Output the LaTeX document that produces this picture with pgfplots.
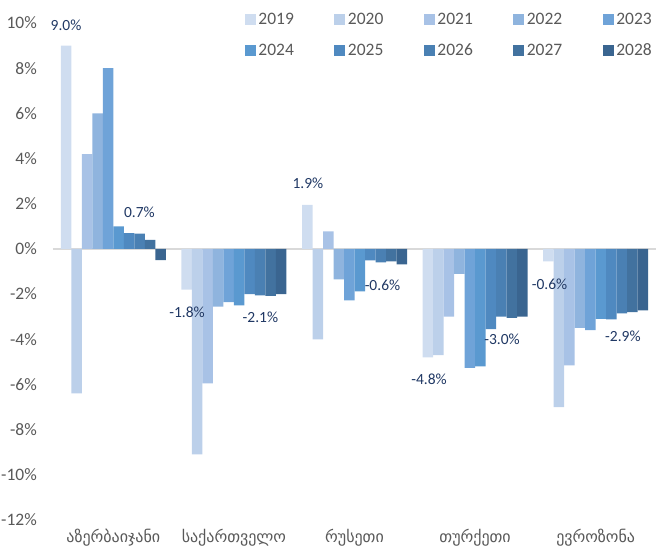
\documentclass[border=0pt]{standalone}
\usepackage{pgfplots}
\pgfplotsset{compat=1.18}
\usepackage{fontspec}
\setmainfont{Carlito}
\newfontfamily\geofont{DejaVu Sans}
\definecolor{cA}{HTML}{CFDDF0}
\definecolor{cB}{HTML}{BCD0EA}
\definecolor{cC}{HTML}{A8C2E6}
\definecolor{cD}{HTML}{8FB4DE}
\definecolor{cE}{HTML}{6FA3D8}
\definecolor{cF}{HTML}{5A99D0}
\definecolor{cG}{HTML}{4F89C0}
\definecolor{cH}{HTML}{4A80B3}
\definecolor{cI}{HTML}{42729F}
\definecolor{cJ}{HTML}{3A6590}
\definecolor{tickgray}{HTML}{595959}
\definecolor{zerogray}{HTML}{D9D9D9}
\definecolor{labelblue}{HTML}{203864}
\begin{document}
\begin{tikzpicture}
\useasboundingbox (-53pt,-30pt) rectangle (603pt,520pt);
\begin{axis}[
  scale only axis, width=603pt, height=497pt,
  at={(0pt,0pt)}, anchor=south west,
  clip=false,
  ybar=0pt, bar width=10.5pt,
  xmin=-0.5, xmax=4.5, ymin=-12, ymax=10,
  xtick={0,1,2,3,4},
  xticklabels={აზერბაიჯანი,საქართველო,რუსეთი,თურქეთი,ევროზონა},
  ytick={-12,-10,...,10},
  yticklabel={\pgfmathprintnumber{\tick}\%},
  /pgf/number format/assume math mode=true,
  axis line style={draw=none},
  major tick length=0pt,
  tick label style={color=tickgray, inner sep=0pt},
  yticklabel style={font=\fontsize{17.5}{20}\selectfont, anchor=east, xshift=-16pt},
  xticklabel style={font=\geofont\fontsize{16}{18}\selectfont, anchor=center, yshift=-18pt},
  extra y ticks={0}, extra y tick labels={},
  extra y tick style={grid=major, major grid style={draw=zerogray, line width=1.5pt}},
  legend columns=5,
  legend style={draw=none, fill=none, at={(0.313,1.03)}, anchor=north west,
    font=\fontsize{17.5}{20}\selectfont, text=tickgray, row sep=13pt,
    /tikz/every even column/.append style={column sep=38pt},
    nodes={inner sep=2.5pt}},
  legend image code/.code={\path[#1,draw=none] (0pt,-5.5pt) rectangle (11pt,5.5pt);},
]
\addplot[fill=cA, draw=none] coordinates {(0,9.0) (1,-1.8) (2,1.95) (3,-4.8) (4,-0.55)};
\addplot[fill=cB, draw=none] coordinates {(0,-6.4) (1,-9.1) (2,-4.0) (3,-4.7) (4,-7.0)};
\addplot[fill=cC, draw=none] coordinates {(0,4.2) (1,-5.95) (2,0.78) (3,-3.0) (4,-5.15)};
\addplot[fill=cD, draw=none] coordinates {(0,6.0) (1,-2.55) (2,-1.35) (3,-1.1) (4,-3.5)};
\addplot[fill=cE, draw=none] coordinates {(0,8.0) (1,-2.35) (2,-2.28) (3,-5.27) (4,-3.6)};
\addplot[fill=cF, draw=none] coordinates {(0,1.0) (1,-2.5) (2,-1.88) (3,-5.2) (4,-3.1)};
\addplot[fill=cG, draw=none] coordinates {(0,0.7) (1,-2.0) (2,-0.51) (3,-3.55) (4,-3.12)};
\addplot[fill=cH, draw=none] coordinates {(0,0.68) (1,-2.06) (2,-0.6) (3,-3.0) (4,-2.85)};
\addplot[fill=cI, draw=none] coordinates {(0,0.4) (1,-2.08) (2,-0.55) (3,-3.05) (4,-2.8)};
\addplot[fill=cJ, draw=none] coordinates {(0,-0.5) (1,-2.0) (2,-0.68) (3,-3.0) (4,-2.72)};
\legend{2019,2020,2021,2022,2023,2024,2025,2026,2027,2028}
\begin{scope}[every node/.style={font=\fontsize{15.5}{18}\selectfont, text=labelblue, inner sep=0pt}]
\node at (axis cs:-0.392,9.88) {9.0\%};
\node at (axis cs:0.217,1.64) {0.7\%};
\node at (axis cs:0.611,-2.82) {-1.8\%};
\node at (axis cs:1.22,-3.04) {-2.1\%};
\node at (axis cs:1.614,2.92) {1.9\%};
\node at (axis cs:2.232,-1.59) {-0.6\%};
\node at (axis cs:2.618,-5.77) {-4.8\%};
\node at (axis cs:3.223,-4.0) {-3.0\%};
\node at (axis cs:3.617,-1.55) {-0.6\%};
\node at (axis cs:4.226,-3.88) {-2.9\%};
\end{scope}
\end{axis}
\end{tikzpicture}
\end{document}
